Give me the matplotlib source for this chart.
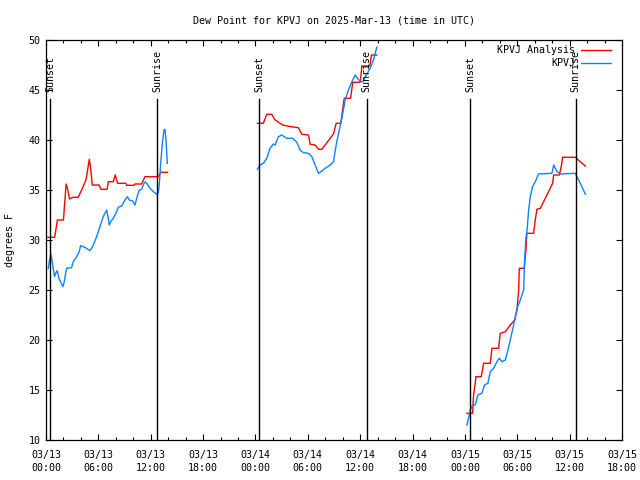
import numpy as np
import matplotlib
matplotlib.use("Agg")
import matplotlib.pyplot as plt

nan = np.nan

# hours since 2025-03-13 00:00 UTC
red_hours = [0.14, 1.0, 1.3, 2.0, 2.3, 2.45, 2.7, 3.1, 3.7, 4.08, 4.58, 4.77, 4.96, 5.1, 5.3, 6.07, 6.3, 7.0, 7.14,
             7.7, 7.94, 8.2, 9.16, 9.25, 10.1, 10.2, 10.96, 11.34, 12.87, 13.14, 13.94,
             nan,
             24.22, 24.9, 25.3, 25.87, 26.25, 27.13, 28.05, 28.93, 29.31, 30.08, 30.26, 30.84, 31.22, 31.6, 31.99,
             32.56, 32.94, 33.25, 33.78, 34.17, 34.9, 35.15, 36.0, 36.2, 37.1, 37.3, 37.9,
             nan,
             48.23, 48.88, 48.99, 49.18, 49.26, 49.87, 50.14, 50.9, 51.1, 51.86, 52.05, 52.63, 53.2, 53.7, 53.97,
             54.16, 54.23, 54.8, 54.99, 55.1, 55.87, 56.06, 56.25, 56.64, 57.21, 57.78, 58.05, 58.17, 58.82, 59.05,
             59.2, 60.65, 61.22, 61.8]
red_values = [30.27, 30.27, 32.0, 32.0, 35.6, 35.2, 34.1, 34.27, 34.27, 35.0, 36.0, 37.0, 38.07, 37.3, 35.5, 35.5, 35.07, 35.07, 35.83,
              35.83, 36.5, 35.67, 35.67, 35.47, 35.47, 35.6, 35.6, 36.33, 36.33, 36.77, 36.77,
              nan,
              41.67, 41.67, 42.57, 42.57, 42.0, 41.5, 41.33, 41.23, 40.57, 40.5, 39.57, 39.5, 39.07, 39.07, 39.5,
              40.17, 40.6, 41.67, 41.67, 44.17, 44.17, 45.77, 45.77, 47.4, 47.4, 48.5, 48.5,
              nan,
              12.67, 12.67, 14.5, 15.67, 16.33, 16.33, 17.67, 17.67, 19.17, 19.17, 20.67, 20.83, 21.5, 22.0, 23.0,
              25.0, 27.17, 27.17, 29.0, 30.67, 30.67, 32.0, 33.07, 33.17, 34.17, 35.17, 35.67, 36.5, 36.5, 37.4,
              38.27, 38.27, 37.83, 37.4]

blue_hours = [0.26, 0.37, 0.56, 0.68, 0.83, 0.98, 1.10, 1.29, 1.48, 1.67, 1.94, 2.05, 2.28, 2.36, 2.93, 3.12, 3.51,
              3.81, 3.96, 4.46, 5.03, 5.34, 5.80, 6.18, 6.56, 6.95, 7.1, 7.25, 7.4, 7.71, 8.09, 8.28, 8.67, 9.05,
              9.32, 9.54, 9.93, 10.2, 10.46, 10.69, 10.96, 11.23, 11.38, 11.61, 11.92, 12.3, 12.68, 12.87, 12.99,
              13.14, 13.33, 13.52, 13.63, 13.75, 13.9,
              nan,
              24.22, 24.53, 24.9, 25.3, 25.67, 26.05, 26.25, 26.63, 27.02, 27.59, 28.28, 28.74, 29.12, 29.5, 30.08,
              30.46, 30.84, 31.22, 31.49, 31.99, 32.56, 32.94, 33.25, 33.52, 33.9, 34.28, 34.66, 35.05, 35.43, 35.7,
              36.0, 36.31, 36.58, 37.15, 37.53, 37.91,
              nan,
              48.23, 48.42, 48.61, 48.88, 49.18, 49.49, 49.95, 50.25, 50.64, 50.9, 51.29, 51.67, 51.94, 52.24, 52.63,
              52.93, 53.2, 53.58, 53.97, 54.35, 54.73, 54.84, 54.99, 55.14, 55.3, 55.49, 55.75, 56.06, 56.44, 57.97,
              58.17, 58.55, 58.94, 60.65, 61.22, 61.8]
blue_values = [27.17, 27.83, 28.57, 28.0, 27.17, 26.33, 26.67, 26.93, 26.17, 25.83, 25.33, 25.67, 26.83, 27.17, 27.23, 27.83, 28.33,
               28.83, 29.43, 29.27, 28.93, 29.33, 30.33, 31.33, 32.33, 33.0, 32.33, 31.5, 31.83, 32.17, 32.83, 33.27, 33.4, 34.0,
               34.33, 34.0, 33.9, 33.5, 34.4, 35.0, 35.07, 35.67, 35.8, 35.6, 35.17, 34.83, 34.6, 34.73, 35.67,
               37.67, 39.67, 41.0, 41.07, 40.0, 37.67,
               nan,
               37.07, 37.5, 37.67, 38.17, 39.17, 39.6, 39.5, 40.33, 40.5, 40.17, 40.17, 39.77, 39.0, 38.73, 38.67,
               38.33, 37.5, 36.67, 36.83, 37.17, 37.5, 37.83, 39.5, 40.67, 42.17, 44.0, 45.0, 45.83, 46.5, 46.17,
               45.83, 45.83, 46.33, 47.17, 48.0, 49.3,
               nan,
               11.5, 12.17, 13.0, 13.5, 13.5, 14.5, 14.67, 15.5, 15.67, 16.83, 17.17, 17.83, 18.17, 17.83, 18.0,
               19.0, 20.0, 21.5, 23.17, 24.0, 25.0, 28.0, 30.17, 31.17, 33.0, 34.33, 35.33, 35.83, 36.6, 36.67,
               37.5, 36.83, 36.6, 36.67, 35.67, 34.57]

sun_hours = [0.48, 12.76, 24.45, 36.76, 48.57, 60.69]
sun_labels = ["Sunset", "Sunrise", "Sunset", "Sunrise", "Sunset", "Sunrise"]

tick_hours = list(range(0, 67, 6))
tick_labels = ["03/13\n00:00", "03/13\n06:00", "03/13\n12:00", "03/13\n18:00",
               "03/14\n00:00", "03/14\n06:00", "03/14\n12:00", "03/14\n18:00",
               "03/15\n00:00", "03/15\n06:00", "03/15\n12:00", "03/15\n18:00"]

FONT = "DejaVu Sans Mono"
FS = 7.2
plt.rcParams['font.family'] = [FONT]

fig = plt.figure(figsize=(6.4, 4.8), dpi=100)
ax = fig.add_axes([46/640, 40/480, 576/640, 400/480])

ax.plot(red_hours, red_values, color='#ff0000', lw=1.0, label='KPVJ Analysis')
ax.plot(blue_hours, blue_values, color='#0a84ff', lw=1.0, label='KPVJ')

for h, lab in zip(sun_hours, sun_labels):
    ax.plot([h, h], [10, 44.1], color='black', lw=1.0)
    ax.text(h, 44.8, lab, rotation=90, ha='center', va='bottom', fontsize=FS, family=FONT)

ax.set_xlim(0, 66)
ax.set_ylim(10, 50)
ax.set_xticks(tick_hours)
ax.set_xticklabels(tick_labels, fontsize=FS, linespacing=1.45)
ax.set_xticks(np.arange(0, 67, 2), minor=True)
ax.set_yticks(np.arange(10, 51, 5))
ax.tick_params(axis='both', which='major', direction='in', length=4, width=0.8,
               top=True, right=True, labelsize=FS, pad=4)
ax.tick_params(axis='x', which='major', pad=7)
ax.tick_params(axis='x', which='minor', direction='in', length=2, width=0.8, top=True)
for s in ax.spines.values():
    s.set_linewidth(0.9)

ax.set_ylabel("degrees F", fontsize=FS, labelpad=10)
ax.set_title("Dew Point for KPVJ on 2025-Mar-13 (time in UTC)", fontsize=FS, pad=12)

leg = ax.legend(loc='upper right', bbox_to_anchor=(611/640, 435/480), bbox_transform=fig.transFigure,
                frameon=False, markerfirst=False, fontsize=FS, handlelength=3.0, handletextpad=0.6,
                labelspacing=0.35, borderpad=0, borderaxespad=0)

fig.savefig("out.png", dpi=100)
